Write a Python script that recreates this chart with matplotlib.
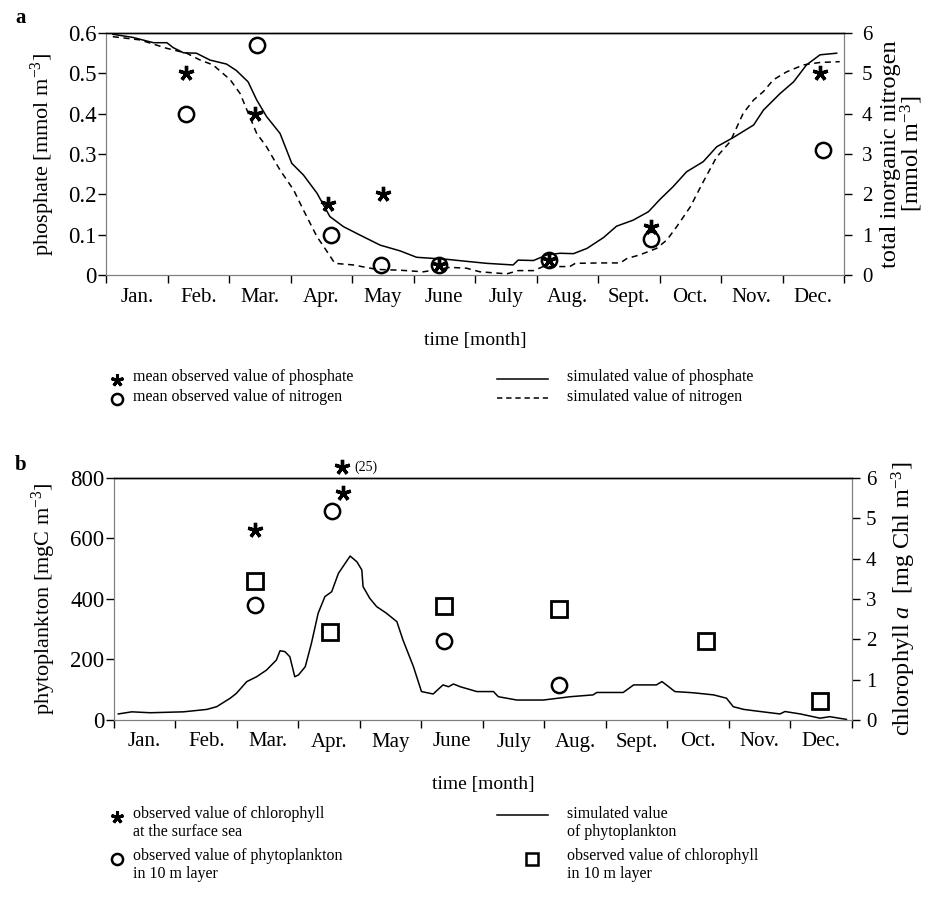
import numpy as np
import matplotlib.pyplot as plt
from matplotlib.lines import Line2D

plt.rcParams['font.family'] = ['Liberation Serif', 'DejaVu Serif']
plt.rcParams['mathtext.fontset'] = 'custom'
plt.rcParams['mathtext.rm'] = 'Liberation Serif'
plt.rcParams['mathtext.it'] = 'Liberation Serif:italic'

months = ['Jan.', 'Feb.', 'Mar.', 'Apr.', 'May', 'June', 'July',
          'Aug.', 'Sept.', 'Oct.', 'Nov.', 'Dec.']

# ---- panel a: observations (time in months from 1 Jan) ----
obs_p_t = [1.30, 2.42, 3.61, 4.50, 5.42, 7.20, 8.86, 11.61]
obs_p = [0.50, 0.40, 0.175, 0.20, 0.025, 0.038, 0.12, 0.50]
obs_n_t = [1.30, 2.46, 3.66, 4.47, 5.42, 7.20, 8.86, 11.66]
obs_n = [4.0, 5.7, 1.0, 0.25, 0.25, 0.38, 0.9, 3.1]

# simulated phosphate (solid)
sim_p_t = [0.11, 0.44, 0.77, 0.99, 1.09, 1.26, 1.47, 1.69, 1.96, 2.12, 2.31,
           2.45, 2.61, 2.83, 3.02, 3.21, 3.43, 3.64, 3.86, 4.13, 4.46, 4.78,
           5.05, 5.54, 5.86, 6.19, 6.62, 6.70, 6.95, 7.17, 7.38, 7.60, 7.82,
           8.09, 8.30, 8.57, 8.82, 9.01, 9.22, 9.44, 9.71, 9.93, 10.20, 10.53,
           10.69, 10.96, 11.18, 11.39, 11.61, 11.88]
sim_p = [0.597, 0.589, 0.576, 0.576, 0.564, 0.551, 0.550, 0.533, 0.523, 0.507,
         0.479, 0.434, 0.393, 0.351, 0.277, 0.248, 0.203, 0.145, 0.120, 0.099,
         0.074, 0.060, 0.044, 0.039, 0.034, 0.029, 0.025, 0.037, 0.036, 0.050,
         0.054, 0.053, 0.066, 0.093, 0.121, 0.136, 0.157, 0.188, 0.219, 0.256,
         0.281, 0.318, 0.341, 0.372, 0.409, 0.450, 0.479, 0.521, 0.546, 0.550]

# simulated nitrogen (dashed)
sim_n_t = [0.11, 0.55, 0.99, 1.31, 1.53, 1.74, 2.02, 2.18, 2.45, 2.61, 2.83,
           3.05, 3.21, 3.43, 3.56, 3.72, 4.02, 4.40, 4.78, 5.16, 5.59, 5.86,
           6.08, 6.52, 6.70, 6.95, 7.11, 7.27, 7.54, 7.63, 8.03, 8.36, 8.47,
           8.68, 8.95, 9.12, 9.28, 9.50, 9.71, 9.93, 10.15, 10.36, 10.53,
           10.69, 10.85, 11.07, 11.34, 11.61, 11.93]
sim_n = [5.91, 5.83, 5.62, 5.50, 5.33, 5.21, 4.84, 4.50, 3.51, 3.18, 2.60,
         2.11, 1.61, 0.95, 0.66, 0.29, 0.25, 0.14, 0.12, 0.08, 0.19, 0.17,
         0.08, 0.03, 0.11, 0.11, 0.21, 0.21, 0.21, 0.29, 0.30, 0.30, 0.41,
         0.50, 0.66, 0.87, 1.20, 1.69, 2.31, 2.93, 3.31, 4.01, 4.34, 4.55,
         4.84, 5.04, 5.21, 5.27, 5.29]

# ---- panel b ----
surf_chl_t = [2.29, 3.73, 3.70]
surf_chl = [4.7, 5.62, 25]          # last one is off scale, shown as (25)
phy10_t = [2.29, 3.55, 5.37, 7.24]
phy10 = [380, 690, 262, 116]
chl10_t = [2.29, 3.51, 5.37, 7.24, 9.62, 11.48]
chl10 = [3.45, 2.18, 2.82, 2.75, 1.97, 0.47]

sim_phy_t = [0.07, 0.29, 0.59, 1.13, 1.51, 1.67, 1.89, 1.99, 2.16, 2.32, 2.48,
             2.64, 2.70, 2.78, 2.86, 2.94, 3.00, 3.11, 3.21, 3.32, 3.43, 3.54,
             3.65, 3.76, 3.84, 3.95, 4.03, 4.05, 4.16, 4.27, 4.43, 4.60, 4.70,
             4.87, 5.00, 5.19, 5.35, 5.44, 5.52, 5.63, 5.90, 6.17, 6.25, 6.55,
             6.98, 7.42, 7.79, 7.85, 8.28, 8.45, 8.82, 8.91, 9.02, 9.12, 9.42,
             9.75, 9.96, 10.07, 10.24, 10.51, 10.83, 10.91, 11.16, 11.48,
             11.64, 11.91]
sim_phy = [20, 27, 24, 27, 35, 44, 72, 88, 127, 143, 165, 198, 229, 226, 209,
           143, 149, 176, 253, 353, 408, 424, 485, 518, 542, 523, 496, 441,
           402, 375, 353, 325, 264, 176, 94, 86, 116, 110, 119, 110, 94, 94,
           77, 66, 66, 77, 83, 91, 91, 116, 116, 127, 110, 94, 90, 83, 72, 44,
           35, 28, 20, 28, 20, 6, 11, 2]

GRAY = '#7f7f7f'
FS = 15
star = (5, 2, 0)

fig = plt.figure(figsize=(9.35, 9), dpi=100)


def style_axes(ax, tw, left_pad, right_pad):
    ax.set_xlim(0, 12)
    ax.set_xticks(range(13))
    ax.set_xticklabels([])
    ax.set_xticks(np.arange(12) + 0.5, minor=True)
    ax.set_xticklabels(months, minor=True, fontsize=FS)
    ax.tick_params(axis='x', which='major', length=6, width=1, direction='out')
    ax.tick_params(axis='x', which='minor', length=0, pad=9)
    ax.tick_params(axis='y', length=6, width=1, labelsize=16.5, pad=left_pad)
    tw.tick_params(axis='y', length=6, width=1, labelsize=FS, pad=right_pad)
    for a in (ax, tw):
        for s in ('left', 'right', 'bottom'):
            a.spines[s].set_color(GRAY)
        a.spines['top'].set_color('black')
        a.spines['top'].set_linewidth(1.0)


# ---------------- panel a ----------------
ax1 = fig.add_axes([0.1134, 0.6944, 0.7893, 0.2689])
tw1 = ax1.twinx()
ax1.plot(sim_p_t, sim_p, color='black', lw=1.1)
tw1.plot(sim_n_t, sim_n, color='black', lw=1.1, dashes=(4, 3))
ax1.plot(obs_p_t, obs_p, ls='none', marker=star, ms=11, mew=2.4,
         color='black', clip_on=False)
tw1.plot(obs_n_t, obs_n, ls='none', marker='o', ms=11, mew=1.8,
         mfc='none', mec='black', clip_on=False)
ax1.set_ylim(0, 0.6)
ax1.set_yticks(np.arange(0, 0.61, 0.1))
ax1.set_yticklabels(['0', '0.1', '0.2', '0.3', '0.4', '0.5', '0.6'])
tw1.set_ylim(0, 6)
tw1.set_yticks(range(7))
style_axes(ax1, tw1, 1, 7)
ax1.set_ylabel('phosphate [mmol m$^{-3}$]', fontsize=16, labelpad=8)
tw1.set_ylabel('total inorganic nitrogen\n[mmol m$^{-3}$]', fontsize=17.5,
               labelpad=5, linespacing=0.9)
ax1.set_xlabel('time [month]', fontsize=FS - 1, labelpad=18)

# ---------------- panel b ----------------
ax2 = fig.add_axes([0.1219, 0.2000, 0.7893, 0.2689])
tw2 = ax2.twinx()
ax2.plot(sim_phy_t, sim_phy, color='black', lw=1.1)
ax2.plot(phy10_t, phy10, ls='none', marker='o', ms=11, mew=1.8,
         mfc='none', mec='black', clip_on=False)
tw2.plot(chl10_t, chl10, ls='none', marker='s', ms=11, mew=2.0,
         mfc='none', mec='black', clip_on=False)
chl_show = [v if v <= 6 else 6.27 for v in surf_chl]
tw2.plot(surf_chl_t, chl_show, ls='none', marker=star, ms=11, mew=2.4,
         color='black', clip_on=False)
for t, v, s in zip(surf_chl_t, surf_chl, chl_show):
    if v > 6:
        tw2.annotate('(%d)' % v, (t, s), xytext=(9, 0),
                     textcoords='offset points', va='center', fontsize=10,
                     annotation_clip=False)
ax2.set_ylim(0, 800)
ax2.set_yticks(range(0, 801, 200))
tw2.set_ylim(0, 6)
tw2.set_yticks(range(7))
style_axes(ax2, tw2, 1, 4)
ax2.set_ylabel('phytoplankton [mgC m$^{-3}$]', fontsize=16, labelpad=9)
tw2.set_ylabel('chlorophyll $a$  [mg Chl m$^{-3}$]', fontsize=17.5,
               labelpad=10)
ax2.set_xlabel('time [month]', fontsize=FS - 1, labelpad=18)

fig.text(15 / 935, 1 - 18 / 900, 'a', fontsize=15, weight='bold', va='center')
fig.text(15 / 935, 1 - 465 / 900, 'b', fontsize=15, weight='bold', va='center')

# ---------------- legends (placed in figure pixels) ----------------
LFS = 11.5


def px(x, y):
    return x / 935, 1 - y / 900


def leg_marker(x, y, **kw):
    fx, fy = px(x, y)
    fig.add_artist(Line2D([fx], [fy], transform=fig.transFigure,
                          ls='none', color='black', **kw))


def leg_line(x0, x1, y, **kw):
    (a, fy), (b, _) = px(x0, y), px(x1, y)
    fig.add_artist(Line2D([a, b], [fy, fy], transform=fig.transFigure,
                          color='black', lw=1.1, **kw))


def leg_text(x, y, s):
    fx, fy = px(x, y)
    fig.text(fx, fy, s, fontsize=LFS, va='top', linespacing=1.2)


# panel a legend
leg_marker(117, 380, marker=star, ms=9, mew=2.2)
leg_text(133, 369, 'mean observed value of phosphate')
leg_marker(117, 399, marker='o', ms=8, mew=1.8, mfc='none')
leg_text(133, 389, 'mean observed value of nitrogen')
leg_line(497, 548, 379)
leg_text(567, 369, 'simulated value of phosphate')
leg_line(497, 548, 398, dashes=(3.5, 2.5))
leg_text(567, 389, 'simulated value of nitrogen')

# panel b legend
leg_marker(117, 817, marker=star, ms=9, mew=2.2)
leg_text(133, 806, 'observed value of chlorophyll\nat the surface sea')
leg_marker(117, 859, marker='o', ms=8, mew=1.8, mfc='none')
leg_text(133, 848, 'observed value of phytoplankton\nin 10 m layer')
leg_line(497, 548, 815)
leg_text(567, 806, 'simulated value\nof phytoplankton')
leg_marker(532, 859, marker='s', ms=8, mew=1.8, mfc='none')
leg_text(567, 848, 'observed value of chlorophyll\nin 10 m layer')

fig.savefig('out.png', dpi=100)
